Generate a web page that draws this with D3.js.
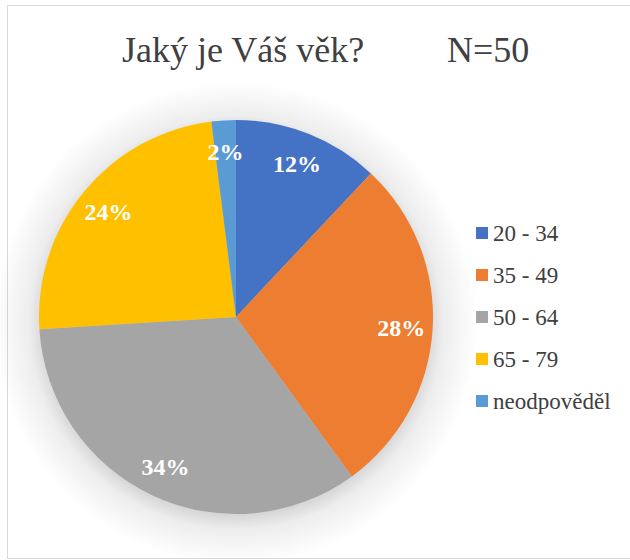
<!DOCTYPE html>
<html>
<head>
<meta charset="utf-8">
<script src="https://cdn.jsdelivr.net/npm/d3@7"></script>
<style>
  body { margin: 0; background: #fff; }
  svg { display: block; }
  text { font-family: "Liberation Serif", "DejaVu Serif", serif; }
</style>
</head>
<body>
<div id="chart"></div>
<script>
// data
var categories = ["20 - 34", "35 - 49", "50 - 64", "65 - 79", "neodpověděl"];
var values = [12, 28, 34, 24, 2];
var colors = ["#4472C4", "#ED7D31", "#A5A5A5", "#FFC000", "#5B9BD5"];
var titleText = "Jaký je Váš věk?";
var nText = "N=50";

var W = 630, H = 560;
var cx = 236, cy = 317, radius = 197;

var svg = d3.select("#chart").append("svg")
    .attr("width", W)
    .attr("height", H);

// chart area border
svg.append("rect")
    .attr("x", 7.5).attr("y", 5.5)
    .attr("width", W).attr("height", 553)
    .attr("fill", "#fff")
    .attr("stroke", "#d9d9d9");

// soft shadow behind the pie, done with a radial gradient
var shadowR = radius + 45;
var grad = svg.append("defs").append("radialGradient")
    .attr("id", "pieShadow");
grad.append("stop").attr("offset", "0%").attr("stop-color", "#000").attr("stop-opacity", 0.25);
grad.append("stop").attr("offset", (radius - 15) / shadowR * 100 + "%").attr("stop-color", "#000").attr("stop-opacity", 0.22);
grad.append("stop").attr("offset", (radius + 10) / shadowR * 100 + "%").attr("stop-color", "#000").attr("stop-opacity", 0.07);
grad.append("stop").attr("offset", "100%").attr("stop-color", "#000").attr("stop-opacity", 0);

// title
svg.append("text")
    .attr("x", 122).attr("y", 62)
    .attr("font-size", 36)
    .attr("fill", "#404040")
    .text(titleText);
svg.append("text")
    .attr("x", 447).attr("y", 62)
    .attr("font-size", 36)
    .attr("fill", "#404040")
    .text(nText);

var pie = d3.pie().sort(null).value(function (d) { return d; });
var arcs = pie(values);
var arc = d3.arc().innerRadius(0).outerRadius(radius);
var labelArc = d3.arc().innerRadius(radius * 0.84).outerRadius(radius * 0.84);
var total = d3.sum(values);

var g = svg.append("g")
    .attr("transform", "translate(" + cx + "," + cy + ")");

g.append("circle")
    .attr("cx", 0).attr("cy", 6)
    .attr("r", shadowR)
    .attr("fill", "url(#pieShadow)");

g.append("g").selectAll("path")
    .data(arcs)
    .enter().append("path")
    .attr("d", arc)
    .attr("fill", function (d, i) { return colors[i]; });

g.selectAll("text.lbl")
    .data(arcs)
    .enter().append("text")
    .attr("class", "lbl")
    .attr("transform", function (d) { return "translate(" + labelArc.centroid(d) + ")"; })
    .attr("text-anchor", "middle")
    .attr("dy", "0.35em")
    .attr("font-weight", "bold")
    .attr("font-size", 24)
    .attr("fill", "#fff")
    .text(function (d) { return Math.round(d.value / total * 100) + "%"; });

// legend
var legend = svg.append("g")
    .attr("transform", "translate(476,233)");
var item = legend.selectAll("g")
    .data(categories)
    .enter().append("g")
    .attr("transform", function (d, i) { return "translate(0," + (i * 42) + ")"; });
item.append("rect")
    .attr("x", 0).attr("y", -6)
    .attr("width", 12).attr("height", 12)
    .attr("fill", function (d, i) { return colors[i]; });
item.append("text")
    .attr("x", 17).attr("dy", "0.33em")
    .attr("font-size", 23)
    .attr("fill", "#404040")
    .text(function (d) { return d; });
</script>
</body>
</html>
